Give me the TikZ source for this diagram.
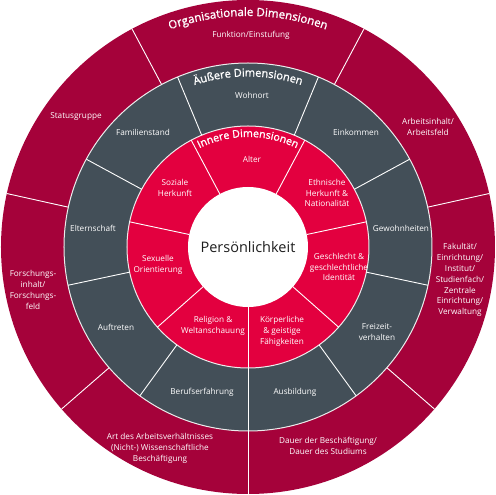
\documentclass[tikz,border=0pt]{standalone}
\usepackage{fontspec}
\setmainfont{Open Sans}
\newfontfamily\titlefont[FakeBold=1.3]{Open Sans}
\usetikzlibrary{decorations.text}
\definecolor{orgred}{HTML}{A5023A}
\definecolor{innred}{HTML}{E3003F}
\definecolor{greyring}{HTML}{434F58}
\definecolor{txtdark}{HTML}{1E1E1E}
\tikzset{
  lbl/.style={text=white, font=\fontsize{8.2}{10.9}\selectfont, align=center, inner sep=0pt},
  sep/.style={draw=white, line width=0.9pt},
  ringline/.style={draw=white!85!gray, line width=1pt},
}
\begin{document}
\begin{tikzpicture}[x=1pt,y=1pt]
\useasboundingbox (-248,-248) rectangle (248,247);
% rings
\fill[orgred] (0,0) circle[radius=247];
\fill[greyring] (0,0) circle[radius=184];
\fill[innred] (0,0) circle[radius=121];
\fill[white] (0,0) circle[radius=60];
\draw[ringline] (0,0) circle[radius=184];
\draw[ringline] (0,0) circle[radius=121];
% outer separators
\foreach \a in {12.5,62,118,167.5,221,270,319}
  \draw[sep] (\a:184) -- (\a:247);
% grey separators
\foreach \a in {28.5,67.5,112.5,151.5,192,234,270,306,348}
  \draw[sep] (\a:121) -- (\a:184);
% inner separators
\foreach \a in {12,62,118,168,221.5,270,318.5}
  \draw[sep] (\a:60) -- (\a:121);
% curved titles
\path[decorate, decoration={text along path, text align=center,
  text={|\color{white}\titlefont\fontsize{11.5}{12}\selectfont|Organisationale Dimensionen}}]
  (160:231) arc[start angle=160, end angle=20, radius=231];
\path[decorate, decoration={text along path, text align=center,
  text={|\color{white}\titlefont\fontsize{11}{12}\selectfont|Äußere Dimensionen}}]
  (160:170.5) arc[start angle=160, end angle=20, radius=170.5];
\path[decorate, decoration={text along path, text align=center,
  text={|\color{white}\titlefont\fontsize{10.6}{12}\selectfont|Innere Dimensionen}}]
  (160:110) arc[start angle=160, end angle=20, radius=110];
% centre
\node[text=txtdark, font=\fontsize{14.5}{16}\selectfont, inner sep=0pt] (pers) at (0,0) {Persönlichkeit};
% organisational
\node[lbl] (funk) at (3,212) {Funktion/Einstufung};
\node[lbl] (status) at (-172,130) {Statusgruppe};
\node[lbl] (arbinh) at (180,120) {Arbeitsinhalt/\\Arbeitsfeld};
\node[lbl] (forsch) at (-215,-43) {Forschungs-\\inhalt/\\Forschungs-\\feld};
\node[lbl] (fak) at (212,-33) {Fakultät/\\Einrichtung/\\Institut/\\Studienfach/\\Zentrale\\Einrichtung/\\Verwaltung};
\node[lbl] (art) at (-88,-201) {Art des Arbeitsverhältnisses\\(Nicht-) Wissenschaftliche\\Beschäftigung};
\node[lbl] (dauer) at (80,-199) {Dauer der Beschäftigung/\\Dauer des Studiums};
% outer dimensions
\node[lbl] (wohn) at (4,152) {Wohnort};
\node[lbl] (fam) at (-105,115) {Familienstand};
\node[lbl] (eink) at (108,115) {Einkommen};
\node[lbl] (eltern) at (-155,19) {Elternschaft};
\node[lbl] (gew) at (153,19) {Gewohnheiten};
\node[lbl] (auft) at (-132,-80) {Auftreten};
\node[lbl] (frei) at (129,-85) {Freizeit-\\verhalten};
\node[lbl] (beruf) at (-46,-145) {Berufserfahrung};
\node[lbl] (ausb) at (47,-145) {Ausbildung};
% inner dimensions
\node[lbl] (alter) at (4,88) {Alter};
\node[lbl] (sozial) at (-73,59) {Soziale\\Herkunft};
\node[lbl] (ethn) at (79,54) {Ethnische\\Herkunft \&\\Nationalität};
\node[lbl] (sex) at (-90,-18) {Sexuelle\\Orientierung};
\node[lbl] (geschl) at (91,-20) {Geschlecht \&\\geschlechtliche\\Identität};
\node[lbl] (relig) at (-35,-79) {Religion \&\\Weltanschauung};
\node[lbl] (koerp) at (34,-84) {Körperliche\\\& geistige\\Fähigkeiten};
\end{tikzpicture}
\end{document}
